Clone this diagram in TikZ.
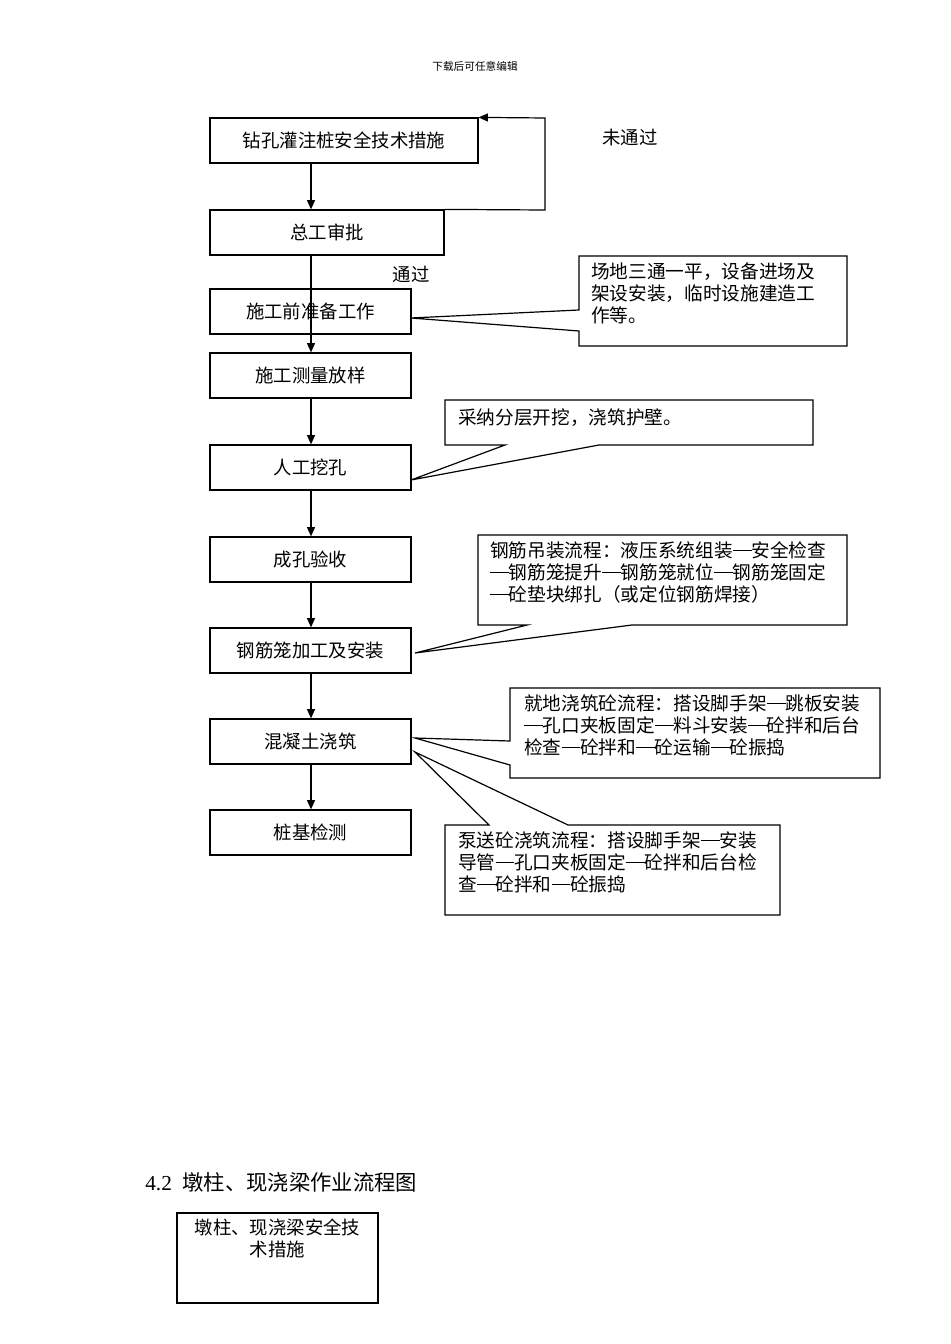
\documentclass[tikz,border=0pt]{standalone}
\usepackage{fontspec}
\setmainfont{Liberation Serif}
\newfontfamily\cjk{Noto Sans CJK SC}
\usetikzlibrary{arrows.meta}
\newcommand\mybox[6]{\node[box,minimum width={(#4-#2)*0.75pt},minimum height={(#5-#3)*0.75pt}] (#1) at ({(#2+#4)/2},{(#3+#5)/2}) {#6};}
\newcommand\dd{\rule[0.36em]{1em}{0.5pt}}
\begin{document}
\begin{tikzpicture}[x=0.75pt,y=-0.75pt,
  box/.style={draw,line width=0.9pt,inner sep=0pt,font=\cjk\fontsize{13.8}{16}\selectfont},
  arr/.style={line width=0.9pt,-{Triangle[length=7pt,width=6pt]}},
  call/.style={draw,line width=0.9pt,fill=white},
  ctext/.style={anchor=north west,inner sep=0pt,align=left,font=\cjk\fontsize{14}{16.5}\selectfont},
  lbl/.style={font=\cjk\fontsize{13.8}{16}\selectfont}]
\useasboundingbox (0,0) rectangle (950,1344);
\node[font=\cjk\fontsize{8}{10}\selectfont] (hdr) at (475,66) {下载后可任意编辑};
\mybox{A}{210}{118}{478}{163}{钻孔灌注桩安全技术措施}
\mybox{B}{210}{210}{444}{255}{总工审批}
\mybox{C}{210}{289}{411}{334}{施工前准备工作}
\mybox{D}{210}{353}{411}{398}{施工测量放样}
\mybox{E}{210}{445}{411}{490}{人工挖孔}
\mybox{F}{210}{537}{411}{582}{成孔验收}
\mybox{G}{210}{628}{411}{673}{钢筋笼加工及安装}
\mybox{H}{210}{719}{411}{764}{混凝土浇筑}
\mybox{I}{210}{810}{411}{855}{桩基检测}
\coordinate (fb1) at (545,210);
\coordinate (fb2) at (545,118);
\draw[arr] (B.north east) -- (fb1) -- (fb2) -- (A.north east);
\node[lbl] (nt) at (630,138) {未通过};
\node[lbl] (tg) at (411,274) {通过};
\draw[arr] (A.south -| 311,0) -- (B.north -| 311,0);
\draw[arr] (B.south -| 311,0) -- (D.north -| 311,0);
\draw[arr] (D.south -| 311,0) -- (E.north -| 311,0);
\draw[arr] (E.south -| 311,0) -- (F.north -| 311,0);
\draw[arr] (F.south -| 311,0) -- (G.north -| 311,0);
\draw[arr] (G.south -| 311,0) -- (H.north -| 311,0);
\draw[arr] (H.south -| 311,0) -- (I.north -| 311,0);
% callouts
\draw[call] (579,256) -- (847,256) -- (847,346) -- (579,346) -- (579,331) -- (411,318) -- (579,310) -- cycle;
\node[ctext] (t1) at (591,262) {场地三通一平，设备进场及\\架设安装，临时设施建造工\\作等。};
\draw[call] (445,400) -- (813,400) -- (813,445) -- (599,445) -- (411,480) -- (505,445) -- (445,445) -- cycle;
\node[ctext] (t2) at (458,408) {采纳分层开挖，浇筑护壁。};
\draw[call] (478,535) -- (847,535) -- (847,625) -- (632,625) -- (415,653) -- (527,625) -- (478,625) -- cycle;
\node[ctext] (t3) at (490,541) {钢筋吊装流程：液压系统组装\dd 安全检查\\\dd 钢筋笼提升\dd 钢筋笼就位\dd 钢筋笼固定\\\dd 砼垫块绑扎（或定位钢筋焊接）};
\draw[call] (510,688) -- (880,688) -- (880,778) -- (510,778) -- (510,765) -- (415,738) -- (510,741) -- cycle;
\node[ctext] (t4) at (524,694) {就地浇筑砼流程：搭设脚手架\dd 跳板安装\\\dd 孔口夹板固定\dd 料斗安装\dd 砼拌和后台\\检查\dd 砼拌和\dd 砼运输\dd 砼振捣};
\draw[call] (445,825) -- (489,825) -- (415,752) -- (568,825) -- (780,825) -- (780,915) -- (445,915) -- cycle;
\node[ctext] (t5) at (458,831) {泵送砼浇筑流程：搭设脚手架\dd 安装\\导管\dd 孔口夹板固定\dd 砼拌和后台检\\查\dd 砼拌和\dd 砼振捣};
\node[anchor=west,inner sep=0pt,font=\fontsize{16}{19}\selectfont] (sec) at (145,1182) {4.2\ \ {\cjk 墩柱、现浇梁作业流程图}};
\draw[line width=0.9pt] (177,1213) rectangle (378,1303);
\node[anchor=north,align=center,inner sep=0pt,font=\cjk\fontsize{13.8}{16.5}\selectfont] (t6) at (277.5,1219) {墩柱、现浇梁安全技\\术措施};
\end{tikzpicture}
\end{document}
